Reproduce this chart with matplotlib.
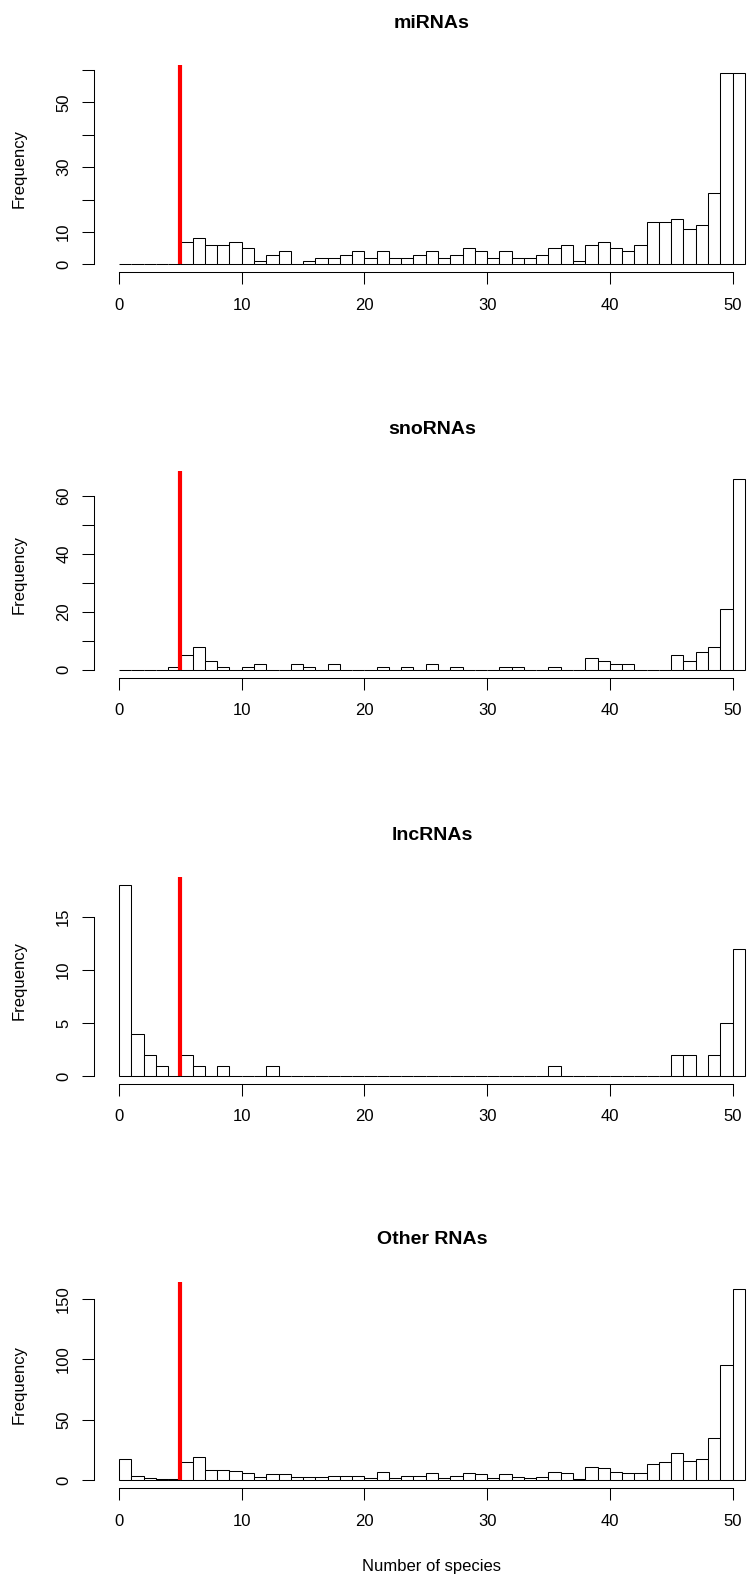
import numpy as np
import matplotlib
matplotlib.use("Agg")
import matplotlib.pyplot as plt

plt.rcParams['font.family'] = ['Liberation Sans', 'DejaVu Sans']

# bins of width 1 from 0 to 51
bin_left = np.arange(0, 51)

titles = ["miRNAs", "snoRNAs", "lncRNAs", "Other RNAs"]

mirna = [0, 0, 0, 0, 0, 7, 8, 6, 6, 7, 5, 1, 3, 4, 0, 1, 2, 2, 3, 4,
         2, 4, 2, 2, 3, 4, 2, 3, 5, 4, 2, 4, 2, 2, 3, 5, 6, 1, 6, 7,
         5, 4, 6, 13, 13, 14, 11, 12, 22, 59, 59]
snorna = [0, 0, 0, 0, 1, 5, 8, 3, 1, 0, 1, 2, 0, 0, 2, 1, 0, 2, 0, 0,
          0, 1, 0, 1, 0, 2, 0, 1, 0, 0, 0, 1, 1, 0, 0, 1, 0, 0, 4, 3,
          2, 2, 0, 0, 0, 5, 3, 6, 8, 21, 66]
lncrna = [18, 4, 2, 1, 0, 2, 1, 0, 1, 0, 0, 0, 1, 0, 0, 0, 0, 0, 0, 0,
          0, 0, 0, 0, 0, 0, 0, 0, 0, 0, 0, 0, 0, 0, 0, 1, 0, 0, 0, 0,
          0, 0, 0, 0, 0, 2, 2, 0, 2, 5, 12]
other = [18, 4, 2, 1, 1, 15, 19, 9, 9, 8, 6, 3, 5, 5, 3, 3, 3, 4, 4, 4,
         2, 7, 2, 4, 4, 6, 2, 4, 6, 5, 2, 5, 3, 2, 3, 7, 6, 1, 11, 10,
         7, 6, 6, 14, 15, 23, 16, 18, 35, 95, 158]

counts = [mirna, snorna, lncrna, other]

y_ticks = [np.arange(0, 61, 10), np.arange(0, 61, 10), [0, 5, 10, 15], [0, 50, 100, 150]]
y_labels = [["0", "10", "", "30", "", "50", ""],
            ["0", "", "20", "", "40", "", "60"],
            ["0", "5", "10", "15"],
            ["0", "50", "100", "150"]]
x_ticks = [0, 10, 20, 30, 40, 50]
cutoff = 5

W, H = 749, 1577
fig = plt.figure(figsize=(W / 100, H / 100), dpi=100)

ax_left = 94
ax_w = 675.8
ax_h = 206.5
tops = [65.5, 471.0, 877.3, 1281.6]

for i in range(4):
    top = tops[i]
    ax = fig.add_axes([ax_left / W, 1 - (top + ax_h) / H, ax_w / W, ax_h / H])
    c = counts[i]
    ymax = max(c)
    ax.bar(bin_left, c, width=1, align='edge', facecolor='white',
           edgecolor='black', linewidth=0.75)
    ax.set_xlim(-2.04, 53.04)
    ax.set_ylim(-0.04 * ymax, 1.04 * ymax)
    ax.vlines(cutoff, 0, 1.04 * ymax, colors='red', linewidth=3)

    for s in ['top', 'right']:
        ax.spines[s].set_visible(False)
    ax.spines['left'].set_bounds(y_ticks[i][0], y_ticks[i][-1])
    ax.spines['bottom'].set_bounds(0, 50)
    for s in ['left', 'bottom']:
        ax.spines[s].set_linewidth(0.75)

    ax.set_yticks(y_ticks[i])
    ax.set_yticklabels(y_labels[i], rotation=90, va='center')
    ax.set_xticks(x_ticks)
    ax.set_xticklabels([str(t) for t in x_ticks])
    ax.tick_params(axis='both', direction='out', length=8.4, width=0.75,
                   labelsize=12)
    ax.tick_params(axis='x', pad=10)
    ax.tick_params(axis='y', pad=8)

    ax.text(0.5, 1 + 42 / ax_h, titles[i], transform=ax.transAxes,
            ha='center', va='center', fontsize=14, fontweight='bold')
    fig.text(19 / W, 1 - (top + ax_h / 2) / H, "Frequency", rotation=90,
             ha='center', va='center', fontsize=12)

fig.text((ax_left + ax_w / 2) / W, 1 - 1567 / H, "Number of species",
         ha='center', va='center', fontsize=12)

fig.savefig("out.png", dpi=100)
